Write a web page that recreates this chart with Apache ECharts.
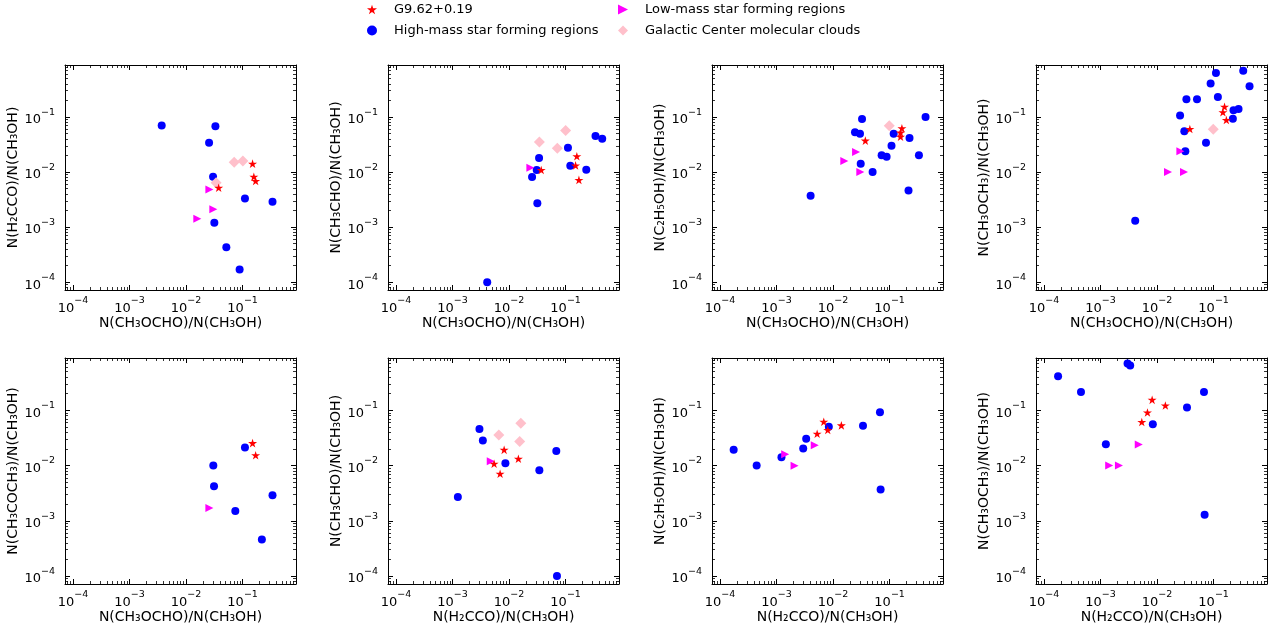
<!DOCTYPE html>
<html>
<head>
<meta charset="utf-8">
<script src="https://cdn.jsdelivr.net/npm/echarts@6/dist/echarts.min.js"></script>
<style>
  html, body { margin: 0; padding: 0; background: #fff; }
  #main { width: 1275px; height: 627px; }
</style>
</head>
<body>
<div id="main"></div>
<script>
// [x, y] pairs, one array per panel and group
// panel 1: H2CCO vs CH3OCHO
var p1_g9 = [[0.15, 0.0142], [0.158, 0.0082], [0.17, 0.0069], [0.0377, 0.0052]];
var p1_high = [[0.0037, 0.07], [0.033, 0.068], [0.0255, 0.034], [0.030, 0.0082], [0.11, 0.0033],
               [0.338, 0.0029], [0.0316, 0.0012], [0.0515, 0.00043], [0.0885, 0.00017]];
var p1_low = [[0.0258, 0.0048], [0.0303, 0.0021], [0.0158, 0.00142]];
var p1_gc = [[0.071, 0.015], [0.101, 0.0158], [0.034, 0.0064]];

// panel 2: CH3CHO vs CH3OCHO
var p2_g9 = [[0.037, 0.0109], [0.158, 0.0193], [0.15, 0.0132], [0.172, 0.0072]];
var p2_high = [[0.0041, 0.0001], [0.0255, 0.0081], [0.0308, 0.0109], [0.0339, 0.018], [0.0316, 0.0027],
               [0.11, 0.0277], [0.121, 0.013], [0.232, 0.011], [0.338, 0.045], [0.444, 0.0404]];
var p2_low = [[0.0238, 0.012]];
var p2_gc = [[0.0343, 0.035], [0.0713, 0.027], [0.1, 0.057]];

// panel 3: C2H5OH vs CH3OCHO
var p3_g9 = [[0.0372, 0.0372], [0.165, 0.0622], [0.156, 0.052], [0.156, 0.0438]];
var p3_high = [[0.004, 0.0037], [0.0325, 0.092], [0.0244, 0.0526], [0.0299, 0.0498], [0.0308, 0.0142],
               [0.05, 0.01], [0.0722, 0.0201], [0.0885, 0.019], [0.108, 0.03], [0.118, 0.0498],
               [0.225, 0.0415], [0.216, 0.0046], [0.33, 0.0201], [0.432, 0.1]];
var p3_low = [[0.0255, 0.0231], [0.0158, 0.0158], [0.0303, 0.01]];
var p3_gc = [[0.0986, 0.0695]];

// panel 4: CH3OCH3 vs CH3OCHO
var p4_g9 = [[0.038, 0.0605], [0.156, 0.154], [0.146, 0.122], [0.168, 0.088]];
var p4_high = [[0.0041, 0.0013], [0.0255, 0.107], [0.0303, 0.0548], [0.0316, 0.0238], [0.033, 0.209],
               [0.0508, 0.209], [0.0733, 0.034], [0.0885, 0.404], [0.11, 0.63], [0.119, 0.231],
               [0.219, 0.093], [0.225, 0.132], [0.276, 0.14], [0.334, 0.695], [0.432, 0.361]];
var p4_low = [[0.0258, 0.0238], [0.0156, 0.01], [0.0299, 0.01]];
var p4_gc = [[0.0986, 0.0597]];

// panel 5: CH3COCH3 vs CH3OCHO
var p5_g9 = [[0.15, 0.0254], [0.17, 0.0153]];
var p5_high = [[0.0303, 0.01], [0.0312, 0.0042], [0.0743, 0.0015], [0.11, 0.0211], [0.219, 0.00046],
               [0.338, 0.0029]];
var p5_low = [[0.0258, 0.0017]];
var p5_gc = [];

// panel 6: CH3CHO vs H2CCO
var p6_g9 = [[0.00817, 0.0192], [0.0146, 0.0133], [0.00543, 0.0108], [0.00693, 0.0071]];
var p6_high = [[0.00124, 0.0027], [0.00299, 0.0457], [0.00343, 0.0284], [0.0086, 0.011], [0.0343, 0.0082],
               [0.0684, 0.0184], [0.0703, 0.0001]];
var p6_low = [[0.00474, 0.0119]];
var p6_gc = [[0.00658, 0.0355], [0.0161, 0.058], [0.0154, 0.0272]];

// panel 7: C2H5OH vs H2CCO
var p7_g9 = [[0.00684, 0.062], [0.014, 0.0532], [0.00522, 0.0375], [0.00805, 0.0438]];
var p7_high = [[0.000174, 0.0192], [0.000444, 0.01], [0.00122, 0.0141], [0.00296, 0.0203], [0.00334, 0.0304],
               [0.0084, 0.0503], [0.0338, 0.0525], [0.0675, 0.092], [0.0693, 0.00367]];
var p7_low = [[0.00142, 0.016], [0.00208, 0.0099], [0.00474, 0.0233]];
var p7_gc = [];

// panel 8: CH3OCH3 vs H2CCO
var p8_g9 = [[0.00817, 0.154], [0.014, 0.1216], [0.00675, 0.0907], [0.00536, 0.0613]];
var p8_high = [[0.000177, 0.411], [0.00045, 0.213], [0.00124, 0.0243], [0.003, 0.70], [0.00334, 0.644],
               [0.0084, 0.0555], [0.0338, 0.112], [0.0675, 0.213], [0.0693, 0.00129]];
var p8_low = [[0.00142, 0.01], [0.00211, 0.01], [0.00474, 0.024]];
var p8_gc = [];

var xNames = ['N(CH₃OCHO)/N(CH₃OH)', 'N(CH₃OCHO)/N(CH₃OH)', 'N(CH₃OCHO)/N(CH₃OH)', 'N(CH₃OCHO)/N(CH₃OH)',
              'N(CH₃OCHO)/N(CH₃OH)', 'N(H₂CCO)/N(CH₃OH)', 'N(H₂CCO)/N(CH₃OH)', 'N(H₂CCO)/N(CH₃OH)'];
var yNames = ['N(H₂CCO)/N(CH₃OH)', 'N(CH₃CHO)/N(CH₃OH)', 'N(C₂H₅OH)/N(CH₃OH)', 'N(CH₃OCH₃)/N(CH₃OH)',
              'N(CH₃COCH₃)/N(CH₃OH)', 'N(CH₃CHO)/N(CH₃OH)', 'N(C₂H₅OH)/N(CH₃OH)', 'N(CH₃OCH₃)/N(CH₃OH)'];
var axisMin = 7.2e-5, axisMax = 0.88;

var panels = [
  [p1_g9, p1_high, p1_low, p1_gc], [p2_g9, p2_high, p2_low, p2_gc],
  [p3_g9, p3_high, p3_low, p3_gc], [p4_g9, p4_high, p4_low, p4_gc],
  [p5_g9, p5_high, p5_low, p5_gc], [p6_g9, p6_high, p6_low, p6_gc],
  [p7_g9, p7_high, p7_low, p7_gc], [p8_g9, p8_high, p8_low, p8_gc]
];

var FONT = 'DejaVu Sans';
var starPath = 'path://M0,-100 L-22,-31 L-95,-31 L-36,12 L-59,81 L0,38 L59,81 L36,12 L95,-31 L22,-31 Z';
var triPath = 'path://M0,0 L10,5 L0,10 Z';

var groups = [
  {name: 'G9.62+0.19', symbol: starPath, size: 9, color: '#ff0000', z: 5},
  {name: 'High-mass star forming regions', symbol: 'circle', size: 8, color: '#0000ff', z: 2},
  {name: 'Low-mass star forming regions', symbol: triPath, size: 8, color: '#ff00ff', z: 4},
  {name: 'Galactic Center molecular clouds', symbol: 'diamond', size: 11, color: '#ffc0cb', z: 3}
];

function powLabel(v) {
  var e = Math.round(Math.log10(v));
  if (Math.abs(Math.log10(v) - e) > 1e-6) return '';
  return '{a|10}{b|' + (e < 0 ? '−' : '') + Math.abs(e) + '}';
}
var labelRich = {
  a: {fontSize: 13, fontFamily: FONT, color: '#000', lineHeight: 19, verticalAlign: 'bottom'},
  b: {fontSize: 9.5, fontFamily: FONT, color: '#000', lineHeight: 19, verticalAlign: 'top'}
};

var lefts = [65, 388, 712, 1036];
var tops = [65, 358];
var grids = [], xAxes = [], yAxes = [], series = [];

function logAxis(gi, pos, withLabel, name) {
  var ax = {
    type: 'log', logBase: 10, gridIndex: gi, position: pos,
    min: axisMin, max: axisMax,
    axisLine: {show: true, onZero: false, lineStyle: {color: '#000', width: 1}},
    axisTick: {show: true, inside: true, length: 5, lineStyle: {color: '#000', width: 1}},
    minorTick: {show: true, splitNumber: 9, length: 3, lineStyle: {color: '#000', width: 0.8}},
    splitLine: {show: false},
    minorSplitLine: {show: false},
    axisLabel: {show: withLabel, formatter: powLabel, rich: labelRich, margin: 6,
                showMinLabel: false, showMaxLabel: false}
  };
  if (name) {
    ax.name = name;
    ax.nameLocation = 'middle';
    ax.nameTextStyle = {fontFamily: FONT, fontSize: 14, color: '#000'};
  }
  return ax;
}

for (var i = 0; i < 8; i++) {
  var row = Math.floor(i / 4), col = i % 4;
  grids.push({left: lefts[col], top: tops[row], width: 231, height: row === 0 ? 225 : 226,
              containLabel: false, show: false});
  var xb = logAxis(i, 'bottom', true, xNames[i]);
  xb.nameGap = 20;
  var xt = logAxis(i, 'top', false, null);
  var yl = logAxis(i, 'left', true, yNames[i]);
  yl.nameGap = 40;
  yl.axisLabel.margin = 10;
  var yr = logAxis(i, 'right', false, null);
  xAxes.push(xb, xt);
  yAxes.push(yl, yr);
  // draw order: circles, diamonds, triangles, stars
  [1, 3, 2, 0].forEach(function (k) {
    var g = groups[k];
    series.push({
      name: g.name, type: 'scatter', xAxisIndex: 2 * i, yAxisIndex: 2 * i,
      data: panels[i][k], symbol: g.symbol, symbolSize: g.size, symbolKeepAspect: true,
      itemStyle: {color: g.color, opacity: 1}, z: g.z,
      emphasis: {disabled: true}
    });
  });
}

var legendCommon = {
  orient: 'vertical', top: -2, itemGap: 8, itemWidth: 10, itemHeight: 10,
  textStyle: {fontFamily: FONT, fontSize: 13, color: '#000', padding: [0, 0, 0, 12]},
  selectedMode: false
};

var chart = echarts.init(document.getElementById('main'), null, {renderer: 'canvas'});
chart.setOption({
  animation: false,
  backgroundColor: '#fff',
  legend: [
    Object.assign({left: 362, data: ['G9.62+0.19', 'High-mass star forming regions']}, legendCommon),
    Object.assign({left: 613, data: ['Low-mass star forming regions', 'Galactic Center molecular clouds']}, legendCommon)
  ],
  grid: grids,
  xAxis: xAxes,
  yAxis: yAxes,
  series: series
});
</script>
</body>
</html>
